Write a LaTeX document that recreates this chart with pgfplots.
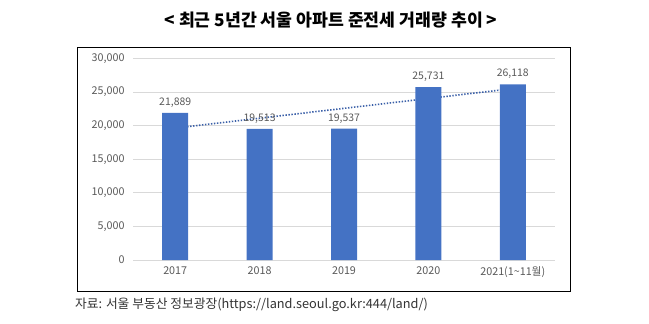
\documentclass[border=0pt]{standalone}
\usepackage{pgfplots}
\pgfplotsset{compat=1.18}
\usepackage{fontspec}
\setmainfont{Noto Sans CJK KR}
\definecolor{barblue}{HTML}{4472C4}
\definecolor{txtgray}{HTML}{595959}
\definecolor{gridgray}{HTML}{D9D9D9}
\definecolor{trendblue}{HTML}{3A5FA8}
\begin{document}
\begin{tikzpicture}[x=1bp,y=1bp]
\path (0,0) rectangle (649,323);
\draw[black, line width=1bp] (77,32) rectangle (570,276);
\node[font=\fontsize{17.3}{19}\selectfont\bfseries] at (331,303) {< 최근 5년간 서울 아파트 준전세 거래량 추이 >};
\node[anchor=west, font=\fontsize{12.8}{14}\selectfont, text=black!80, inner sep=0pt] at (75,18) {자료: 서울 부동산 정보광장(https://land.seoul.go.kr:444/land/)};
\begin{axis}[
  at={(133bp,63bp)}, anchor=south west, scale only axis,
  width=422bp, height=201.7bp,
  xmin=-0.5, xmax=4.5, ymin=0, ymax=30000,
  axis line style={draw=none},
  major tick length=0pt,
  ymajorgrids, grid style={gridgray, line width=0.8bp},
  ytick={0,5000,10000,15000,20000,25000,30000},
  scaled y ticks=false,
  yticklabel style={/pgf/number format/fixed, /pgf/number format/1000 sep={,}, /pgf/number format/assume math mode=true, xshift=-5bp},
  xtick={0,1,2,3,4},
  xticklabels={2017,2018,2019,2020,2021(1\textasciitilde 11월)},
  xticklabel style={yshift=-3bp},
  tick label style={font=\fontsize{10.8}{12}\selectfont, text=txtgray},
]
\addplot[trendblue, line width=1.6bp, dash pattern=on 1.4bp off 1.6bp] coordinates {(0,19622) (4,25493)};
\addplot[ybar, bar width=26bp, bar shift=0pt, fill=barblue, draw=none,
  nodes near coords={\pgfmathprintnumber[fixed, 1000 sep={,}, assume math mode=true]{\pgfplotspointmeta}},
  every node near coord/.append style={font=\fontsize{10.5}{12}\selectfont, text=txtgray, yshift=2bp}]
  coordinates {(0,21889) (1,19513) (2,19537) (3,25731) (4,26118)};
\end{axis}
\end{tikzpicture}
\end{document}
